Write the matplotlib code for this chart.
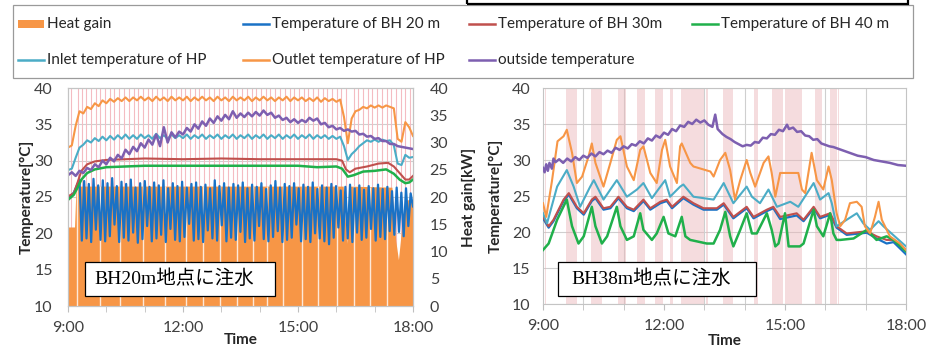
import numpy as np
import matplotlib.pyplot as plt
from matplotlib.patches import Rectangle
from matplotlib.lines import Line2D
from matplotlib.ticker import MultipleLocator, FuncFormatter

plt.rcParams['font.family'] = ['Lato', 'DejaVu Sans']

# ---------------- data : left panel (injection at BH20m) ----------------
# noisy series sampled every 6 min, 9:00 .. 18:00
t_left = np.linspace(9.0, 18.0, 91)
outside_left = [28.0, 28.4, 27.9, 28.6, 28.3, 29.0, 28.7, 29.5, 29.1, 30.0,
                29.5, 30.4, 29.9, 30.8, 30.3, 31.5, 30.9, 31.9, 31.3, 32.4,
                31.8, 32.9, 32.2, 33.6, 32.0, 34.6, 32.5, 33.9, 33.2, 34.0,
                33.6, 34.5, 34.0, 35.0, 34.4, 35.4, 34.8, 35.8, 35.2, 36.1,
                35.5, 36.3, 35.7, 36.8, 35.9, 36.5, 36.0, 36.6, 36.1, 36.7,
                36.2, 36.9, 36.3, 36.6, 35.9, 36.2, 35.6, 35.9, 35.3, 35.7,
                35.2, 35.6, 35.3, 35.9, 35.5, 35.8, 35.0, 35.2, 34.6, 34.8,
                34.3, 34.5, 34.1, 34.3, 34.0, 34.1, 33.6, 33.7, 33.3, 33.4,
                33.0, 33.1, 32.7, 32.7, 32.3, 32.3, 32.0, 31.9, 31.8, 31.7,
                31.6]
outlet_left = [31.8, 32.1, 34.8, 36.8, 36.5, 37.4, 37.1, 37.9, 37.5, 38.3,
               37.9, 38.5, 38.1, 38.6, 38.2, 38.7, 38.2, 38.7, 38.3, 38.8,
               38.3, 38.7, 38.2, 38.8, 38.3, 38.7, 38.2, 38.8, 38.3, 38.7,
               38.3, 38.8, 38.2, 38.7, 38.3, 38.8, 38.3, 38.7, 38.2, 38.8,
               38.3, 38.7, 38.2, 38.8, 38.3, 38.7, 38.3, 38.8, 38.2, 38.7,
               38.3, 38.8, 38.3, 38.7, 38.2, 38.7, 38.3, 38.8, 38.2, 38.7,
               38.3, 38.7, 38.2, 38.6, 38.2, 38.7, 38.1, 38.6, 38.2, 38.5,
               38.1, 38.4, 36.0, 32.4, 35.8, 36.8, 37.0, 37.4, 37.2, 37.6,
               37.3, 37.6, 37.3, 37.6, 37.4, 37.2, 33.0, 32.6, 35.3, 34.6,
               33.4]
inlet_left = [28.7, 28.9, 30.4, 31.8, 32.2, 32.8, 32.5, 33.1, 32.7, 33.3,
              32.8, 33.4, 32.9, 33.5, 33.0, 33.6, 33.0, 33.5, 33.0, 33.6,
              33.1, 33.5, 33.0, 33.7, 33.1, 33.5, 33.0, 33.6, 33.1, 33.5,
              33.1, 33.6, 33.0, 33.5, 33.1, 33.6, 33.0, 33.5, 33.1, 33.6,
              33.0, 33.5, 33.1, 33.6, 33.0, 33.5, 33.1, 33.6, 33.0, 33.5,
              33.1, 33.6, 33.0, 33.5, 33.1, 33.6, 33.0, 33.5, 33.1, 33.6,
              33.0, 33.5, 33.1, 33.6, 33.0, 33.5, 33.1, 33.5, 33.0, 33.4,
              33.0, 33.3, 32.0, 30.1, 30.9, 31.4, 32.0, 32.4, 32.8, 32.6,
              32.9, 32.6, 32.9, 32.7, 32.8, 32.1, 29.6, 29.4, 30.8, 30.4,
              30.5]

bh30_left_t = [9.0, 9.15, 9.25, 9.35, 9.5, 9.7, 10.0, 11.0, 12.0, 13.0, 14.0, 15.0,
               16.0, 16.15, 16.25, 16.35, 16.5, 16.8, 17.1, 17.35, 17.5, 17.65,
               17.8, 17.9, 18.0]
bh30_left = [25.1, 25.5, 27.0, 28.6, 29.5, 29.9, 30.1, 30.3, 30.2, 30.3, 30.2, 30.2,
             30.2, 30.0, 28.8, 28.4, 28.9, 29.2, 29.6, 29.7, 29.2, 28.3,
             27.4, 27.4, 27.9]
bh40_left_t = [9.0, 9.15, 9.25, 9.35, 9.5, 9.7, 10.0, 10.5, 11.0, 12.0, 13.0, 14.0,
               15.0, 15.5, 16.0, 16.15, 16.3, 16.45, 16.7, 17.0, 17.3, 17.5,
               17.65, 17.8, 17.9, 18.0]
bh40_left = [24.6, 25.3, 26.3, 27.4, 28.3, 28.8, 29.1, 29.2, 29.3, 29.3, 29.3, 29.3,
             29.3, 29.1, 29.2, 28.9, 27.8, 28.0, 28.5, 28.6, 28.8, 28.2,
             27.4, 26.9, 27.0, 27.4]

# BH 20 m swings between a peak and a trough every heat pump cycle
bh20_lead_t = [9.0, 9.15]
bh20_lead = [24.8, 25.6]
bh20_peak = [27.4, 27.2, 26.8, 27.5, 26.6, 27.3, 26.9, 27.6, 26.5, 27.1, 26.8, 27.4,
             26.3, 26.9, 27.2, 26.4, 27.0, 26.6, 27.3, 26.2, 26.9, 26.5, 27.1, 26.3,
             26.8, 27.0, 26.4, 26.7, 26.2, 27.3, 26.5, 26.9, 26.3, 26.8, 26.6, 27.0,
             26.2, 26.7, 26.4, 26.9, 26.1, 26.6, 27.2, 26.3, 26.8, 26.5, 26.9, 26.2,
             26.7, 26.4, 27.0, 26.1, 26.6, 26.3, 26.8, 26.5, 25.9, 26.4, 26.7, 26.2,
             26.6, 26.0, 26.5, 26.2, 26.7, 26.1, 26.4, 25.8, 26.3, 25.6, 26.2, 25.5]
bh20_trough = [19.0, 19.3, 18.8, 20.5, 19.1, 18.9, 19.6, 21.2, 18.8, 19.4, 19.0, 20.1,
               18.7, 19.2, 21.0, 18.9, 19.3, 19.8, 18.8, 20.6, 19.1, 18.9, 19.5, 21.3,
               19.0, 19.2, 18.8, 20.4, 19.3, 19.0, 21.1, 18.9, 19.4, 19.1, 20.2, 18.8,
               19.3, 19.0, 21.0, 19.2, 18.9, 19.5, 20.3, 18.8, 19.1, 19.4, 21.2, 18.9,
               19.2, 18.8, 20.0, 19.3, 18.9, 18.5, 19.4, 20.8, 19.0, 19.3, 18.8, 20.1,
               19.1, 19.4, 20.6, 19.0, 19.5, 19.2, 20.3, 19.8, 20.2, 19.6, 21.0, 23.7]

# heat gain [kW]
heat_t = [9.00, 9.17, 9.21, 16.18, 16.27, 16.33, 17.45, 17.55, 17.62, 17.70, 17.80, 18.00]
heat_kw = [14.5, 14.5, 22.0, 22.0, 11.5, 22.0, 21.8, 12.0, 8.5, 14.0, 19.5, 19.5]
heat_off_t = [9.24, 9.83, 10.35, 10.96, 11.53, 12.09, 12.53, 12.96, 13.40, 13.83,
              14.18, 14.62, 15.10, 15.53, 16.01, 16.45, 16.88, 17.32]
pump_left = [9.08, 9.25, 9.36, 9.47, 9.60, 9.72, 9.84, 9.97, 10.09, 10.21, 10.34,
             10.46, 10.58, 10.71, 10.83, 10.95, 11.08, 11.20, 11.32, 11.45, 11.57,
             11.69, 11.82, 11.94, 12.06, 12.19, 12.31, 12.43, 12.56, 12.68, 12.80,
             12.93, 13.05, 13.17, 13.30, 13.42, 13.54, 13.67, 13.79, 13.91, 14.04,
             14.16, 14.28, 14.41, 14.53, 14.65, 14.78, 14.90, 15.02, 15.15, 15.27,
             15.39, 15.52, 15.64, 15.76, 15.89, 16.01, 16.13, 16.26, 16.45, 16.57,
             16.69, 16.82, 16.94, 17.06, 17.19, 17.31, 17.43, 17.56, 17.68, 17.80,
             17.92]

# ---------------- data : right panel (injection at BH38m) ----------------
out_r_t = [9.00, 9.08, 9.22, 9.36, 9.51, 9.59, 9.72, 9.84, 9.97, 10.13, 10.21, 10.30,
           10.50, 10.67, 10.83, 10.92, 11.08, 11.25, 11.41, 11.49, 11.66, 11.82,
           11.95, 12.03, 12.15, 12.32, 12.40, 12.44, 12.65, 12.73, 13.15, 13.23,
           13.39, 13.52, 13.64, 13.76, 13.89, 14.05, 14.14, 14.26, 14.47, 14.59,
           14.67, 14.76, 14.88, 15.13, 15.33, 15.42, 15.50, 15.66, 15.79, 15.95,
           16.08, 16.16, 16.28, 16.37, 16.49, 16.61, 16.78, 16.90, 16.98, 17.11,
           17.23, 17.32, 17.40, 17.60, 17.85, 18.00]
outlet_right = [24.0, 22.1, 27.0, 32.6, 33.3, 34.2, 31.0, 26.8, 27.7, 30.5, 32.3, 29.6,
                26.3, 29.6, 32.8, 33.3, 29.1, 27.2, 31.4, 31.9, 28.2, 26.8,
                31.4, 32.8, 29.1, 26.8, 31.9, 32.3, 29.6, 29.1, 28.4, 27.7,
                30.0, 31.0, 28.6, 24.5, 27.2, 30.0, 28.2, 26.3, 29.6, 30.5,
                28.2, 24.9, 28.2, 28.2, 28.2, 25.9, 25.4, 31.0, 27.2, 25.9,
                29.1, 27.2, 22.6, 20.8, 21.7, 24.0, 24.2, 23.5, 20.8, 19.8,
                22.1, 24.2, 21.7, 19.4, 18.4, 17.5]
in_r_t = [9.00, 9.10, 9.35, 9.59, 9.76, 9.92, 10.17, 10.26, 10.50, 10.67, 10.83,
          11.08, 11.33, 11.49, 11.70, 11.91, 12.03, 12.15, 12.40, 12.48, 12.73,
          13.23, 13.48, 13.72, 14.05, 14.18, 14.38, 14.59, 14.80, 15.13, 15.33,
          15.71, 15.87, 16.08, 16.16, 16.28, 16.53, 16.78, 16.94, 17.11, 17.32,
          17.44, 18.00]
inlet_right = [22.6, 21.2, 26.3, 28.6, 26.3, 23.5, 26.3, 27.2, 24.5, 25.9, 27.2,
               24.9, 25.9, 26.8, 24.7, 26.3, 27.2, 24.9, 26.3, 26.6, 24.9,
               24.5, 26.8, 24.0, 26.3, 24.9, 24.0, 25.9, 23.5, 24.2, 23.5,
               26.8, 24.5, 25.4, 24.0, 20.8, 21.7, 22.6, 21.2, 20.3, 21.5,
               20.8, 18.0]
bh_r_t = [9.00, 9.14, 9.26, 9.51, 9.64, 9.84, 10.01, 10.21, 10.30, 10.50, 10.67,
          10.87, 11.08, 11.25, 11.49, 11.66, 11.91, 12.07, 12.20, 12.48, 12.73,
          12.98, 13.31, 13.48, 13.72, 14.05, 14.22, 14.55, 14.71, 14.88, 15.29,
          15.46, 15.71, 15.87, 16.12, 16.28, 16.53, 17.03, 17.27, 17.52, 17.69,
          18.00]
bh30_right = [22.1, 20.8, 21.7, 24.5, 25.4, 23.5, 22.6, 24.5, 24.9, 23.3, 23.5,
              24.9, 23.5, 23.1, 24.5, 23.3, 24.2, 24.5, 23.5, 24.9, 24.0,
              23.3, 23.3, 24.0, 22.1, 23.5, 22.1, 23.1, 23.5, 22.1, 22.6,
              21.7, 23.5, 22.1, 22.6, 20.8, 19.8, 20.1, 19.4, 18.9, 18.9,
              17.5]
bh20_right = [21.9, 20.6, 21.5, 24.3, 25.2, 23.3, 22.4, 24.3, 24.7, 23.1, 23.3,
              24.7, 23.3, 22.9, 24.3, 23.1, 24.0, 24.3, 23.3, 24.7, 23.8,
              23.1, 23.1, 23.8, 21.9, 23.3, 21.9, 22.9, 23.3, 21.8, 22.3,
              21.5, 23.3, 21.9, 22.4, 20.6, 19.6, 19.9, 19.1, 18.4, 18.6,
              16.9]
bh40_r_t = [9.00, 9.14, 9.35, 9.59, 9.72, 9.88, 10.01, 10.21, 10.30, 10.46, 10.59,
            10.83, 10.92, 11.08, 11.25, 11.41, 11.49, 11.70, 11.82, 11.99, 12.11,
            12.28, 12.44, 12.53, 12.65, 13.06, 13.23, 13.39, 13.52, 13.64, 13.72,
            13.89, 14.05, 14.18, 14.30, 14.55, 14.67, 14.76, 14.84, 15.00, 15.09,
            15.37, 15.46, 15.71, 15.79, 15.95, 16.12, 16.20, 16.28, 16.37, 16.70,
            17.03, 17.27, 17.52, 17.69, 18.00]
bh40_right = [17.5, 18.4, 21.7, 24.5, 20.8, 18.4, 19.4, 23.5, 20.8, 18.4, 19.4,
              23.5, 20.8, 18.9, 19.4, 22.6, 20.3, 18.9, 19.8, 22.1, 19.8,
              19.4, 22.1, 19.4, 18.9, 18.4, 18.4, 20.3, 22.8, 19.4, 18.0,
              20.3, 22.6, 19.8, 19.8, 22.6, 20.3, 18.0, 18.4, 22.6, 18.0,
              18.0, 18.4, 23.1, 20.8, 19.4, 22.6, 19.8, 18.9, 18.9, 19.1,
              20.3, 18.9, 19.4, 18.9, 17.3]
outside_r_t = [9.00, 9.04, 9.08, 9.12, 9.16, 9.22, 9.26, 9.31, 9.40, 9.50, 9.60, 9.70,
               9.80, 9.90, 10.00, 10.10, 10.20, 10.30, 10.40, 10.50, 10.60, 10.70,
               10.80, 10.90, 11.00, 11.10, 11.20, 11.30, 11.40, 11.50, 11.60, 11.70,
               11.80, 11.90, 12.00, 12.10, 12.20, 12.30, 12.40, 12.50, 12.60, 12.70,
               12.80, 12.90, 13.00, 13.10, 13.20, 13.27, 13.33, 13.45, 13.55, 13.65,
               13.75, 13.85, 13.95, 14.05, 14.15, 14.25, 14.35, 14.45, 14.55, 14.65,
               14.75, 14.85, 14.95, 15.05, 15.10, 15.20, 15.30, 15.40, 15.50, 15.60,
               15.70, 15.80, 15.90, 16.00, 16.10, 16.20, 16.40, 16.60, 16.80, 17.00,
               17.20, 17.40, 17.60, 17.80, 18.00]
outside_right = [28.9, 28.3, 29.4, 28.5, 29.6, 28.8, 30.2, 29.7, 30.1, 29.6, 30.2, 29.8,
                 30.4, 30.0, 30.6, 30.3, 30.9, 30.5, 31.1, 30.8, 31.3, 31.0,
                 31.7, 31.4, 31.9, 31.6, 32.2, 32.0, 32.6, 32.3, 33.0, 32.7,
                 33.4, 33.1, 33.8, 33.5, 34.3, 34.0, 34.8, 34.6, 35.3, 35.0,
                 35.6, 35.2, 35.5, 34.9, 34.6, 36.3, 34.3, 33.6, 33.2, 32.9,
                 32.5, 32.2, 31.9, 32.1, 32.0, 32.5, 32.4, 33.1, 33.0, 33.6,
                 33.5, 34.2, 34.0, 34.9, 34.3, 34.5, 33.9, 34.0, 33.4, 33.3,
                 32.8, 32.9, 32.3, 32.1, 31.9, 31.8, 31.4, 31.0, 30.6, 30.4,
                 30.0, 29.8, 29.6, 29.3, 29.2]
pump_right = [(9.04, 9.08), (9.57, 9.84), (10.18, 10.47), (10.85, 11.05), (11.32, 11.52),
              (11.78, 11.97), (12.15, 12.22), (12.42, 12.98), (13.03, 13.08),
              (13.46, 13.72), (14.22, 14.32), (14.67, 14.96), (15.00, 15.42),
              (15.75, 15.92), (16.12, 16.28), (16.31, 16.34)]

series_names = ['Temperature of BH 20 m', 'Temperature of BH 30m', 'Temperature of BH 40 m',
                'Inlet temperature of HP', 'Outlet temperature of HP', 'outside temperature']
c_heat = '#f79646'
c_bh20 = '#1a72c6'
c_bh30 = '#c0504d'
c_bh40 = '#20b04b'
c_inlet = '#4bacc6'
c_outlet = '#f79646'
c_out = '#7d5fb0'
c_pink = '#f4bcc2'
c_grid = '#cfcfcf'
c_tick = '#404040'

W, H = 928, 347
fig = plt.figure(figsize=(W / 100, H / 100), dpi=100)


def fx(px):
    return px / W


def fy(px):
    return 1 - px / H


def hour_fmt(x, pos):
    return '%d:00' % int(round(x))


def base_axes(ax, ypad):
    ax.set_xlim(9, 18)
    ax.set_ylim(10, 40)
    ax.xaxis.set_major_locator(MultipleLocator(3))
    ax.xaxis.set_minor_locator(MultipleLocator(1))
    ax.xaxis.set_major_formatter(FuncFormatter(hour_fmt))
    ax.yaxis.set_major_locator(MultipleLocator(5))
    ax.tick_params(axis='x', which='both', direction='out', length=4, color='#bfbfbf',
                   labelsize=11.5, labelcolor=c_tick, pad=7)
    ax.tick_params(axis='y', length=0, labelsize=11.5, labelcolor=c_tick, pad=ypad)
    for s in ax.spines.values():
        s.set_color('#c4c4c4')
        s.set_linewidth(0.8)
    ax.set_xlabel('Time', fontsize=11, fontweight='bold', color='#262626')
    ax.set_ylabel('Temperature[°C]', fontsize=11, fontweight='bold', color='#262626')


def note_box(ax, rect, text):
    x0, y0, w, h = rect
    ax.add_patch(Rectangle((x0, y0), w, h, transform=ax.transAxes, fc='white',
                           ec='black', lw=0.9, zorder=10))
    ax.text(x0 + w * 0.47, y0 + h / 2, text, transform=ax.transAxes, ha='center',
            va='center', fontsize=14, zorder=11,
            family=['Liberation Serif', 'Noto Sans CJK JP'])


# ---------------- left panel ----------------
ax_l = fig.add_axes([fx(68), 1 - 306 / H, fx(345), 218 / H])
ax_h = ax_l.twinx()
ax_l.set_zorder(ax_h.get_zorder() + 1)
ax_l.patch.set_visible(False)
base_axes(ax_l, 11)

ax_h.set_ylim(0, 40)
ax_h.yaxis.set_major_locator(MultipleLocator(5))
ax_h.tick_params(axis='y', length=0, labelsize=11.5, labelcolor=c_tick, pad=12)
for s in ax_h.spines.values():
    s.set_color('#c4c4c4')
    s.set_linewidth(0.8)
ax_h.set_ylabel('Heat gain[kW]', fontsize=11, fontweight='bold', color='#262626')

# background grid of the temperature scale, kept under the heat gain fill
for temp in [15, 20, 25, 30, 35]:
    ax_h.plot([9, 18], [temp, temp], transform=ax_l.transData, color=c_grid, lw=0.8, zorder=0)
ax_h.vlines(pump_left, 0, 40, color=c_pink, lw=0.8, zorder=1)
ax_h.fill_between(heat_t, 0, heat_kw, color=c_heat, lw=0, zorder=2)
ax_h.vlines(heat_off_t, 0, np.interp(heat_off_t, heat_t, heat_kw), color='white',
            lw=1.0, alpha=0.8, zorder=3)
ax_h.set_xlim(9, 18)
ax_h.set_ylim(0, 40)

bh20_left = bh20_lead + list(np.column_stack([bh20_peak, bh20_trough]).ravel())
bh20_left_t = bh20_lead_t + list(np.linspace(9.30, 18.0, len(bh20_peak) * 2))
ax_l.plot(bh20_left_t, bh20_left, color=c_bh20, lw=1.6)
ax_l.plot(bh30_left_t, bh30_left, color=c_bh30, lw=1.5)
ax_l.plot(bh40_left_t, bh40_left, color=c_bh40, lw=1.8)
ax_l.plot(t_left, inlet_left, color=c_inlet, lw=1.5)
ax_l.plot(t_left, outlet_left, color=c_outlet, lw=1.5)
ax_l.plot(t_left, outside_left, color=c_out, lw=1.8)
ax_l.set_xlim(9, 18)
ax_l.set_ylim(10, 40)

ax_l.xaxis.set_label_coords(0.5, -0.125)
ax_l.yaxis.set_label_coords(-0.10, 0.5)
ax_h.yaxis.set_label_coords(1.142, 0.5)
note_box(ax_l, (0.049, 0.046, 0.551, 0.156), 'BH20m地点に注水')

# ---------------- right panel ----------------
ax_r = fig.add_axes([fx(543), 1 - 304 / H, fx(363), 216 / H])
base_axes(ax_r, 9)
ax_r.grid(True, which='major', axis='y', color=c_grid, lw=0.8)
ax_r.grid(True, which='minor', axis='x', color=c_grid, lw=0.8)
ax_r.set_axisbelow(True)
for t0, t1 in pump_right:
    ax_r.axvspan(t0, t1, color='#eab3b7', alpha=0.45, lw=0, zorder=1)

ax_r.plot(bh_r_t, bh20_right, color=c_bh20, lw=1.6, zorder=3)
ax_r.plot(bh_r_t, bh30_right, color=c_bh30, lw=1.5, zorder=3)
ax_r.plot(bh40_r_t, bh40_right, color=c_bh40, lw=1.8, zorder=3)
ax_r.plot(in_r_t, inlet_right, color=c_inlet, lw=1.5, zorder=3)
ax_r.plot(out_r_t, outlet_right, color=c_outlet, lw=1.5, zorder=3)
ax_r.plot(outside_r_t, outside_right, color=c_out, lw=1.8, zorder=3)
ax_r.set_xlim(9, 18)
ax_r.set_ylim(10, 40)
ax_r.xaxis.set_label_coords(0.5, -0.14)
ax_r.yaxis.set_label_coords(-0.112, 0.5)
note_box(ax_r, (0.041, 0.037, 0.545, 0.157), 'BH38m地点に注水')

# ---------------- shared legend (drawn as one framed box) ----------------
fig.add_artist(Rectangle((fx(13), fy(78)), fx(900), 73 / H, transform=fig.transFigure,
                         fill=False, ec='#9a9a9a', lw=0.9))
fig.add_artist(Rectangle((fx(467), fy(3.5)), fx(441), 0.05, transform=fig.transFigure,
                         fill=False, ec='black', lw=1.6, clip_on=False))
legend_items = [('Heat gain', c_heat, 18, 24, 'patch'),
                (series_names[0], c_bh20, 243, 24, 'line'),
                (series_names[1], c_bh30, 469, 24, 'line'),
                (series_names[2], c_bh40, 692, 24, 'line'),
                (series_names[3], c_inlet, 18, 60, 'line'),
                (series_names[4], c_outlet, 243, 60, 'line'),
                (series_names[5], c_out, 469, 60, 'line')]
for label, col, x0, y0, kind in legend_items:
    if kind == 'patch':
        fig.add_artist(Rectangle((fx(x0), fy(y0 + 4)), fx(26), 8 / H,
                                 transform=fig.transFigure, fc=col, ec='none'))
    else:
        fig.add_artist(Line2D([fx(x0), fx(x0 + 26)], [fy(y0), fy(y0)],
                              transform=fig.transFigure, color=col, lw=1.8))
    fig.text(fx(x0 + 29), fy(y0), label, ha='left', va='center', fontsize=11,
             color='#262626')

fig.savefig('out.png', dpi=100)
